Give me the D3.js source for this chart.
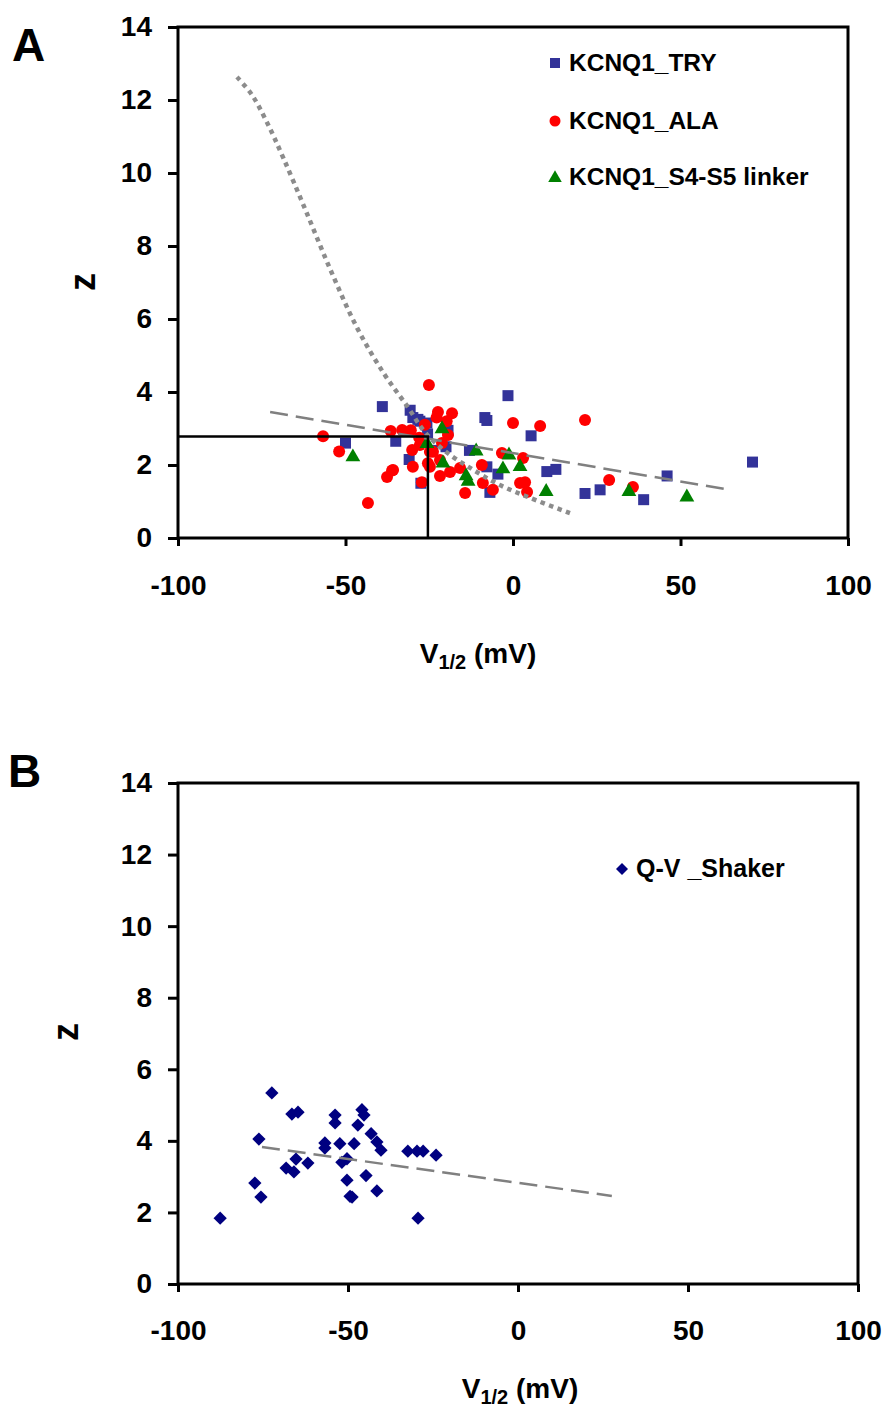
<!DOCTYPE html>
<html>
<head>
<meta charset="utf-8">
<script src="https://cdn.jsdelivr.net/npm/d3@7"></script>
<style>
  body { margin: 0; background: #fff; }
  text { font-family: "Liberation Sans", Arial, sans-serif; font-weight: bold; fill: #000; }
</style>
</head>
<body>
<script>
// Tick values
var xTicks = [-100, -50, 0, 50, 100];
var yTicks = [0, 2, 4, 6, 8, 10, 12, 14];

// Panel A series: [V1/2 (mV), z]
var tryPoints = [
  [-50, 2.6], [-39, 3.6], [-35, 2.65], [-30.7, 3.5], [-29.9, 3.3], [-28.4, 3.25], [-27.8, 3.2],
  [-31, 2.15], [-27.5, 1.5], [-25.5, 2.85], [-25.7, 3.15], [-24, 2.4], [-19.4, 2.95], [-20, 2.5],
  [-13, 2.4], [-8.4, 3.3], [-7.8, 3.22], [-1.5, 3.9], [5.4, 2.8], [-7.8, 1.95], [-6.9, 1.25],
  [-4.5, 1.75], [10.1, 1.82], [12.8, 1.88], [21.5, 1.22], [26, 1.32], [39, 1.05], [46, 1.7], [71.5, 2.08]
];
var alaPoints = [
  [-56.7, 2.79], [-51.9, 2.37], [-43.3, 0.96], [-36.5, 2.93], [-33.1, 2.96], [-30.5, 2.95], [-28, 2.75],
  [-26.3, 3.1], [-25.1, 4.19], [-22.4, 3.45], [-22.8, 3.3], [-18.2, 3.42], [-19.8, 3.2], [-19.4, 2.82],
  [-21.2, 2.6], [-24.8, 2.36], [-21.8, 2.14], [-27.8, 2.55], [0, 3.15], [8.1, 3.07], [21.5, 3.23],
  [-35.8, 1.86], [-37.6, 1.67], [-36.1, 1.85], [-29.9, 1.95], [-24.8, 1.95], [-21.8, 1.7], [-18.8, 1.81],
  [-15.8, 1.92], [-27.2, 1.53], [-14.3, 1.23], [-9.3, 2.0], [-9.0, 1.51], [-6.0, 1.32], [-3.3, 2.33],
  [3.0, 2.19], [2.1, 1.51], [3.6, 1.53], [4.2, 1.26], [28.7, 1.59], [35.8, 1.4], [-30.1, 2.41],
  [-25.4, 2.05], [-23.9, 2.36]
];
var linkerPoints = [
  [-47.8, 2.22], [-25.7, 2.58], [-21.2, 2.99], [-20.9, 2.05], [-14.0, 1.7], [-13.4, 1.55], [-11.0, 2.38],
  [-3.0, 1.89], [-1.2, 2.27], [2.1, 1.95], [9.9, 1.27], [34.6, 1.27], [51.9, 1.12]
];
var trendA = [[-72.5, 3.45], [64.8, 1.32]];
var curveA = [
  [-82.4, 12.63], [-78.0, 12.15], [-73.5, 11.4], [-68.5, 10.4], [-62.0, 9.0], [-54.5, 7.35],
  [-46.5, 5.75], [-38.5, 4.5], [-31.5, 3.6], [-26.3, 2.9], [-20.3, 2.38], [-12.8, 1.92],
  [-3.9, 1.45], [5.1, 1.1], [17.0, 0.68]
];
var crossPoint = [-25.4, 2.78];

// Panel B series
var shakerPoints = [
  [-87.6, 1.84], [-77.4, 2.82], [-75.6, 2.43], [-76.2, 4.05], [-72.4, 5.34], [-68.2, 3.24], [-66.5, 4.75],
  [-64.7, 4.8], [-65.9, 3.13], [-65.3, 3.49], [-61.8, 3.38], [-56.8, 3.94], [-56.8, 3.8], [-53.8, 4.72],
  [-53.8, 4.5], [-52.4, 3.92], [-51.8, 3.4], [-50.3, 3.5], [-50.3, 2.9], [-49.4, 2.45], [-48.8, 2.43],
  [-48.2, 3.92], [-47.1, 4.44], [-45.9, 4.87], [-45.3, 4.72], [-44.7, 3.03], [-43.2, 4.2], [-41.5, 3.97],
  [-40.3, 3.74], [-41.5, 2.6], [-32.4, 3.71], [-29.7, 3.71], [-27.9, 3.71], [-24.1, 3.6], [-29.4, 1.84]
];
var trendB = [[-75.3, 3.83], [27.6, 2.46]];

var svg = d3.select('body').append('svg').attr('width', 887).attr('height', 1407);

// draws frame, ticks and labels for one panel
function drawPanel(cfg) {
  var x = d3.scaleLinear().domain([-100, 100]).range([cfg.left, cfg.right]);
  var y = d3.scaleLinear().domain([0, 14]).range([cfg.bottom, cfg.top]);

  var gx = svg.append('g')
    .attr('transform', 'translate(0,' + cfg.bottom + ')')
    .call(d3.axisBottom(x).tickValues(xTicks).tickFormat((d) => String(d))
      .tickSize(8).tickSizeOuter(0).tickPadding(cfg.xPad));
  var gy = svg.append('g')
    .attr('transform', 'translate(' + cfg.left + ',0)')
    .call(d3.axisLeft(y).tickValues(yTicks).tickFormat((d) => String(d))
      .tickSize(10).tickSizeOuter(0).tickPadding(16));
  [gx, gy].forEach(function (g) {
    g.select('.domain').remove();
    g.selectAll('line').attr('stroke', '#000').attr('stroke-width', 3);
    g.selectAll('text')
      .style('font-size', '28px')
      .style('font-family', '"Liberation Sans", Arial, sans-serif')
      .style('font-weight', 'bold')
      .attr('fill', '#000');
  });

  svg.append('rect')
    .attr('x', cfg.left).attr('y', cfg.top)
    .attr('width', cfg.right - cfg.left).attr('height', cfg.bottom - cfg.top)
    .attr('fill', 'none').attr('stroke', '#000').attr('stroke-width', 3);

  // axis titles
  var t = svg.append('text')
    .attr('x', cfg.titleX).attr('y', cfg.titleY)
    .attr('text-anchor', 'middle')
    .style('font-size', '28px');
  t.append('tspan').text('V');
  t.append('tspan').attr('dy', 6).style('font-size', '20px').text('1/2');
  t.append('tspan').attr('dy', -6).text(' (mV)');

  svg.append('text')
    .attr('transform', 'translate(' + cfg.zX + ',' + cfg.zY + ') rotate(-90)')
    .attr('text-anchor', 'middle')
    .attr('dy', '0.36em')
    .style('font-size', '36px')
    .text('z');

  svg.append('text')
    .attr('x', cfg.letterX).attr('y', cfg.letterY)
    .style('font-size', '46px')
    .text(cfg.letter);

  return { x: x, y: y };
}

var A = drawPanel({ left: 178, right: 848, top: 27, bottom: 538, xPad: 29, titleX: 478, titleY: 663,
  zX: 82, zY: 282, letter: 'A', letterX: 12, letterY: 61 });
var B = drawPanel({ left: 178, right: 858, top: 783, bottom: 1284, xPad: 28, titleX: 520, titleY: 1398,
  zX: 65, zY: 1032, letter: 'B', letterX: 8, letterY: 787 });

function symbolPath(type, size) {
  return d3.symbol().type(type).size(size)();
}

// Panel A markers
svg.append('g').selectAll('path').data(tryPoints).enter().append('path')
  .attr('d', symbolPath(d3.symbolSquare, 121))
  .attr('transform', (d) => 'translate(' + A.x(d[0]) + ',' + A.y(d[1]) + ')')
  .attr('fill', '#333399');
svg.append('g').selectAll('circle').data(alaPoints).enter().append('circle')
  .attr('cx', (d) => A.x(d[0])).attr('cy', (d) => A.y(d[1])).attr('r', 6)
  .attr('fill', '#ff0000');
svg.append('g').selectAll('path').data(linkerPoints).enter().append('path')
  .attr('d', symbolPath(d3.symbolTriangle, 95))
  .attr('transform', (d) => 'translate(' + A.x(d[0]) + ',' + A.y(d[1]) + ')')
  .attr('fill', '#008000');

// Panel A lines
var lineA = d3.line().x((d) => A.x(d[0])).y((d) => A.y(d[1]));
svg.append('path').datum(trendA).attr('d', lineA)
  .attr('fill', 'none').attr('stroke', '#808080').attr('stroke-width', 2.5).attr('stroke-dasharray', '18,8');
svg.append('path').datum(curveA).attr('d', lineA.curve(d3.curveCatmullRom))
  .attr('fill', 'none').attr('stroke', '#8c8c8c').attr('stroke-width', 4.5).attr('stroke-dasharray', '4.5,4.5');
svg.append('path')
  .datum([[-100, crossPoint[1]], crossPoint, [crossPoint[0], 0]])
  .attr('d', d3.line().x((d) => A.x(d[0])).y((d) => A.y(d[1])))
  .attr('fill', 'none').attr('stroke', '#000').attr('stroke-width', 2.5);

// Panel A legend
var legA = svg.append('g');
legA.append('path').attr('d', symbolPath(d3.symbolSquare, 100))
  .attr('transform', 'translate(555,63)').attr('fill', '#333399');
legA.append('circle').attr('cx', 555).attr('cy', 121).attr('r', 5.5).attr('fill', '#ff0000');
legA.append('path').attr('d', symbolPath(d3.symbolTriangle, 80))
  .attr('transform', 'translate(555,178)').attr('fill', '#008000');
[['KCNQ1_TRY', 62], ['KCNQ1_ALA', 120], ['KCNQ1_S4-S5 linker', 176]].forEach(function (l) {
  legA.append('text').attr('x', 569).attr('y', l[1]).attr('dy', '0.36em')
    .style('font-size', '24.5px').text(l[0]);
});

// Panel B markers
svg.append('g').selectAll('path').data(shakerPoints).enter().append('path')
  .attr('d', symbolPath(d3.symbolSquare, 88))
  .attr('transform', (d) => 'translate(' + B.x(d[0]) + ',' + B.y(d[1]) + ') rotate(45)')
  .attr('fill', '#000080');
svg.append('path').datum(trendB)
  .attr('d', d3.line().x((d) => B.x(d[0])).y((d) => B.y(d[1])))
  .attr('fill', 'none').attr('stroke', '#808080').attr('stroke-width', 2.5).attr('stroke-dasharray', '18,8');

// Panel B legend
svg.append('path').attr('d', symbolPath(d3.symbolSquare, 72))
  .attr('transform', 'translate(622,869) rotate(45)').attr('fill', '#000080');
svg.append('text').attr('x', 636).attr('y', 868).attr('dy', '0.36em')
  .style('font-size', '25px').text('Q-V _Shaker');
</script>
</body>
</html>
